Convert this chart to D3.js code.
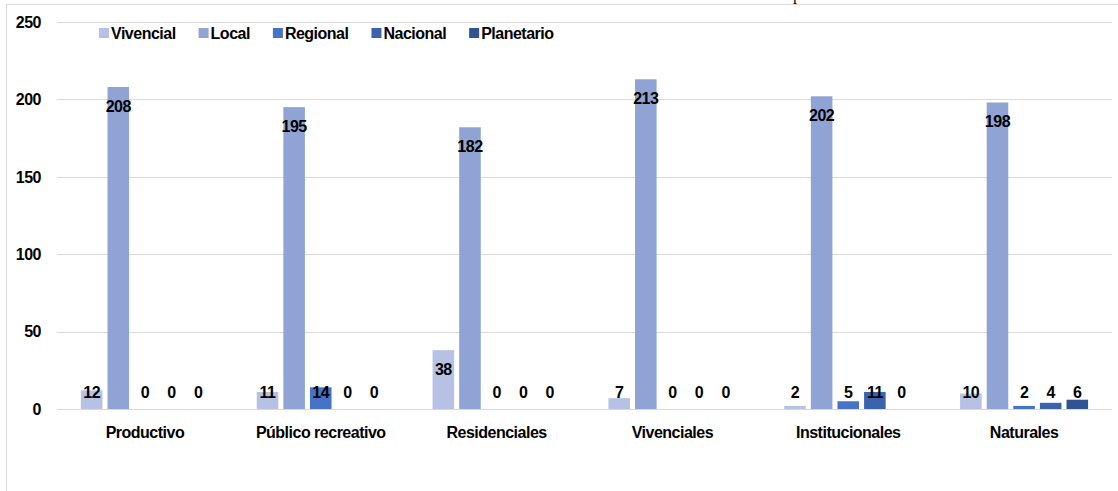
<!DOCTYPE html>
<html>
<head>
<meta charset="utf-8">
<script src="https://cdn.jsdelivr.net/npm/d3@7"></script>
<style>
  html, body { margin: 0; padding: 0; background: #fff; }
  svg text { font-family: "Liberation Sans", Arial, sans-serif; font-weight: bold; font-size: 16px; letter-spacing: -0.5px; fill: #000; }
</style>
</head>
<body>
<svg id="chart" width="1118" height="491"></svg>
<script>
const categories = ["Productivo", "Público recreativo", "Residenciales", "Vivenciales", "Institucionales", "Naturales"];
const seriesNames = ["Vivencial", "Local", "Regional", "Nacional", "Planetario"];
const vivencial  = [12, 11, 38, 7, 2, 10];
const local      = [208, 195, 182, 213, 202, 198];
const regional   = [0, 14, 0, 0, 5, 2];
const nacional   = [0, 0, 0, 0, 11, 4];
const planetario = [0, 0, 0, 0, 0, 6];
const yTicks = [0, 50, 100, 150, 200, 250];
const colors = ["#b7c1e3", "#8fa4d5", "#4673c5", "#3b63ad", "#2f5393"];

const seriesValues = [vivencial, local, regional, nacional, planetario];
const svg = d3.select("#chart");
const W = 1118, H = 491;

// outer chart frame
svg.append("rect").attr("x", 6.5).attr("y", 4.5).attr("width", 1130).attr("height", 520)
  .attr("fill", "none").attr("stroke", "#d9d9d9").attr("stroke-width", 1);

// clipped title remnant above the frame
svg.append("text").attr("x", 797).attr("y", 0)
  .style("font-family", "'Liberation Serif', 'Times New Roman', serif")
  .style("font-weight", "normal").style("letter-spacing", "0px")
  .attr("text-anchor", "middle").text("p");

const plotLeft = 57, plotRight = 1112, plotTop = 22, plotBottom = 409;

const x0 = d3.scaleBand().domain(categories).range([plotLeft, plotRight]).paddingInner(0).paddingOuter(0);
const half = x0.bandwidth() / 2;
const x1 = d3.scaleBand().domain(seriesNames).range([half - 64, half + 64]).paddingInner(0.19).paddingOuter(0);
const y = d3.scaleLinear().domain([0, 250]).range([plotBottom, plotTop]);

// gridlines
svg.append("g").selectAll("line").data(yTicks).join("line")
  .attr("x1", plotLeft).attr("x2", plotRight)
  .attr("y1", d => Math.round(y(d)) + 0.5).attr("y2", d => Math.round(y(d)) + 0.5)
  .attr("stroke", "#d9d9d9").attr("stroke-width", 1);

// y tick labels
svg.append("g").selectAll("text").data(yTicks).join("text")
  .attr("x", 41).attr("y", d => y(d) + 5.8)
  .attr("text-anchor", "end").text(d => d);

// bars
const rows = [];
categories.forEach((c, i) => {
  seriesNames.forEach((s, j) => rows.push({ cat: c, series: s, idx: j, value: seriesValues[j][i] }));
});

const groups = svg.append("g");
groups.selectAll("rect").data(rows).join("rect")
  .attr("x", d => x0(d.cat) + x1(d.series))
  .attr("width", x1.bandwidth())
  .attr("y", d => y(d.value))
  .attr("height", d => y(0) - y(d.value))
  .attr("fill", d => colors[d.idx]);

// data labels (inside end, clamped near the axis)
groups.selectAll("text").data(rows).join("text")
  .attr("x", d => x0(d.cat) + x1(d.series) + x1.bandwidth() / 2)
  .attr("y", d => Math.min(y(d.value) + 19, 392) + 5.8)
  .attr("text-anchor", "middle")
  .text(d => d.value);

// category labels
svg.append("g").selectAll("text").data(categories).join("text")
  .attr("x", d => x0(d) + half)
  .attr("y", 438)
  .attr("text-anchor", "middle")
  .text(d => d);

// legend
const legend = svg.append("g");
let lx = 99;
const ly = 33;
seriesNames.forEach((s, j) => {
  legend.append("rect").attr("x", lx).attr("y", ly - 5).attr("width", 10).attr("height", 10).attr("fill", colors[j]);
  const t = legend.append("text").attr("x", lx + 12).attr("y", ly + 5.8).text(s);
  const w = t.node().getComputedTextLength();
  lx = lx + 12 + w + 23;
});
</script>
</body>
</html>
